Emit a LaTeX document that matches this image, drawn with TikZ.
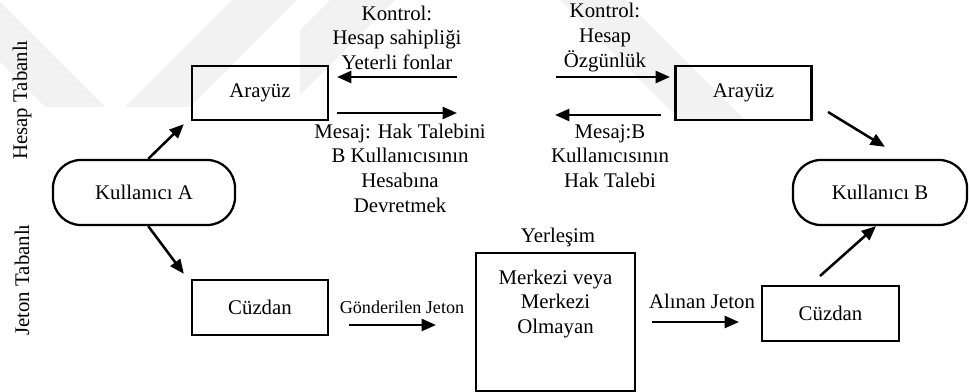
\documentclass[tikz,border=0pt]{standalone}
\usepackage{fontspec}
\setmainfont{Liberation Serif}
\usetikzlibrary{arrows.meta}

\tikzset{
  every node/.style={font=\fontsize{14.8}{17.5}\selectfont, inner sep=0pt},
  box/.style={draw, line width=1.6pt, align=center},
  user/.style={draw, line width=1.6pt, rounded corners=0.7cm, align=center},
  lbl/.style={align=center},
  arr/.style={line width=1.8pt, -{Triangle[length=0.36cm,width=0.3cm]}},
  mark band/.style={fill=black!5, draw=none}
}

\begin{document}
\begin{tikzpicture}[x=0.025cm, y=-0.025cm]
  \useasboundingbox (0,0) rectangle (970,392);

  % faint background bands
  \fill[mark band] (0,62) -- (45,107) -- (105,107) -- (0,2) -- cycle;
  \fill[mark band] (125,107) -- (190,107) -- (297,0) -- (232,0) -- cycle;
  \fill[mark band] (330,0) -- (395,0) -- (300,95) -- (300,30) -- cycle;
  \fill[mark band] (560,0) -- (625,0) -- (745,120) -- (680,120) -- cycle;

  % side captions
  \node[rotate=90] (capH) at (22,100) {Hesap Tabanlı};
  \node[rotate=90] (capJ) at (22,280) {Jeton Tabanlı};

  % users
  \node[user, minimum width=4.55cm, minimum height=1.625cm] (ka) at (144,192.5) {Kullanıcı A};
  \node[user, minimum width=4.35cm, minimum height=1.625cm] (kb) at (880,192.5) {Kullanıcı B};

  % account based path
  \node[box, minimum width=3.4cm, minimum height=1.35cm] (ar1) at (260,93) {Arayüz};
  \node[box, minimum width=3.4cm, minimum height=1.35cm] (ar2) at (743.5,93) {Arayüz};

  % token based path
  \node[box, minimum width=3.4cm, minimum height=1.375cm] (cz1) at (260,307.5) {Cüzdan};
  \node[box, minimum width=3.425cm, minimum height=1.375cm] (cz2) at (830.5,313.5) {Cüzdan};
  \node[box, minimum width=3.975cm, minimum height=3.45cm] (yer) at (555.5,322) {};
  \node[lbl] (yerT) at (555.5,304) {Merkezi veya\\Merkezi\\Olmayan};
  \node[lbl] (yerL) at (558,237) {Yerleşim};

  % labels between the interfaces
  \node[lbl] (k1) at (397,37.5) {Kontrol:\\Hesap sahipliği\\Yeterli fonlar};
  \node[lbl] (m1) at (400,168) {Mesaj: Hak Talebini\\B Kullanıcısının\\Hesabına\\Devretmek};
  \node[lbl] (k2) at (605,37.5) {Kontrol:\\Hesap\\Özgünlük};
  \node[lbl] (m2) at (610,156) {Mesaj:B\\Kullanıcısının\\Hak Talebi};
  \node[lbl, font=\fontsize{12.9}{15}\selectfont] (gj) at (402,307) {Gönderilen Jeton};
  \node[lbl] (aj) at (702,301) {Alınan Jeton};

  % free ends of the message arrows
  \coordinate (a1s) at (457,77);  \coordinate (a1e) at (337,77);
  \coordinate (a2s) at (337,113); \coordinate (a2e) at (457,113);
  \coordinate (a3s) at (556,77);  \coordinate (a3e) at (670,77);
  \coordinate (a4s) at (661,115); \coordinate (a4e) at (555,115);
  \coordinate (a5s) at (349,325); \coordinate (a5e) at (436,325);
  \coordinate (a6s) at (652,322); \coordinate (a6e) at (739,322);
  \coordinate (b1s) at (828,112);
  \coordinate (c2s) at (820,276);

  % connectors
  \draw[arr] ([xshift=3]ka.north) -- ([shift={(-7,3)}]ar1.south west);
  \draw[arr] ([xshift=3]ka.south) -- ([shift={(-7,-5)}]cz1.north west);
  \draw[arr] (b1s) -- ([shift={(5,-12)}]kb.north);
  \draw[arr] (c2s) -- ([shift={(-4,0)}]kb.south);
  \draw[arr] (a1s) -- (a1e);
  \draw[arr] (a2s) -- (a2e);
  \draw[arr] (a3s) -- (a3e);
  \draw[arr] (a4s) -- (a4e);
  \draw[arr] (a5s) -- (a5e);
  \draw[arr] (a6s) -- (a6e);
\end{tikzpicture}
\end{document}
